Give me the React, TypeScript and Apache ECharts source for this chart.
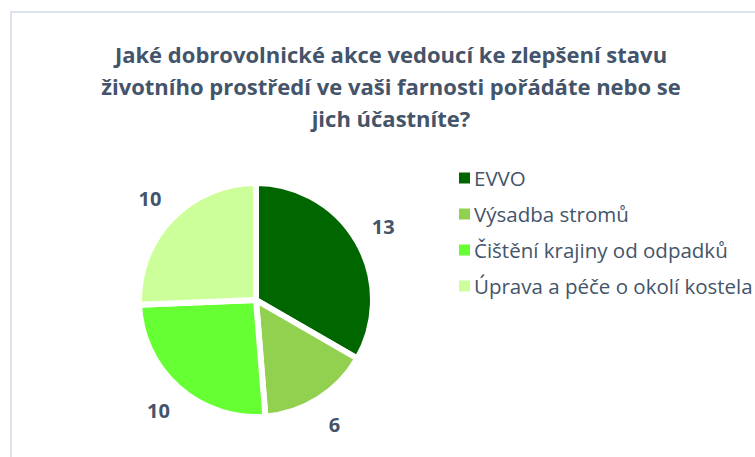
import React, { useEffect, useRef } from "react";
import * as echarts from "echarts";

const categories = [
  "EVVO",
  "Výsadba stromů",
  "Čištění krajiny od odpadků",
  "Úprava a péče o okolí kostela",
];
const values = [13, 6, 10, 10];
const colors = ["#006600", "#92D050", "#66FF33", "#CCFF99"];
const titleText =
  "Jaké dobrovolnické akce vedoucí ke zlepšení stavu\nživotního prostředí ve vaši farnosti pořádáte nebo se\njich účastníte?";

const CX = 256;
const CY = 300;
const LABEL_R = 147;

export default function App() {
  const ref = useRef<HTMLDivElement>(null);
  useEffect(() => {
    if (!ref.current) return;
    const chart = echarts.init(ref.current, undefined, { renderer: "svg" });
    const font = "'Open Sans', sans-serif";
    const total = values.reduce((a, b) => a + b, 0);
    const midAngles: number[] = [];
    let cum = 0;
    values.forEach((v) => {
      midAngles.push(((cum + v / 2) / total) * Math.PI * 2);
      cum += v;
    });
    chart.setOption({
      animation: false,
      backgroundColor: "#ffffff",
      title: {
        text: titleText,
        left: 386,
        top: 33,
        textAlign: "center",
        textStyle: {
          fontFamily: font,
          fontSize: 22,
          fontWeight: "bold",
          color: "#44546A",
          lineHeight: 32,
          align: "center",
        },
      },
      legend: {
        orient: "vertical",
        left: 452,
        top: 162,
        icon: "rect",
        itemWidth: 13,
        itemHeight: 13,
        itemGap: 14,
        textStyle: {
          fontFamily: font,
          fontSize: 20.5,
          color: "#44546A",
          lineHeight: 22,
          padding: [0, 0, 0, -2],
        },
        data: categories,
      },
      graphic: [
        {
          type: "rect",
          shape: { x: 11, y: 12, width: 800, height: 500 },
          style: { fill: "none", stroke: "#dde3ea", lineWidth: 2 },
          silent: true,
        },
      ],
      series: [
        {
          type: "pie",
          center: [CX, CY],
          radius: 117,
          startAngle: 90,
          clockwise: true,
          data: categories.map((name, i) => ({
            name,
            value: values[i],
            itemStyle: { color: colors[i] },
          })),
          itemStyle: { borderColor: "#ffffff", borderWidth: 6 },
          label: {
            show: true,
            position: "outside",
            formatter: "{c}",
            fontFamily: font,
            fontSize: 20,
            fontWeight: "bold",
            color: "#44546A",
          },
          labelLine: { show: false, length: 12, length2: 0 },
          labelLayout: (p: any) => {
            const a = midAngles[p.dataIndex];
            return {
              x: CX + LABEL_R * Math.sin(a),
              y: CY - LABEL_R * Math.cos(a),
              align: "center",
              verticalAlign: "middle",
            };
          },
          emphasis: { disabled: true },
        },
      ],
    });
    return () => chart.dispose();
  }, []);
  return (
    <div
      ref={ref}
      style={{ position: "fixed", left: 0, top: 0, width: 755, height: 457 }}
    />
  );
}
